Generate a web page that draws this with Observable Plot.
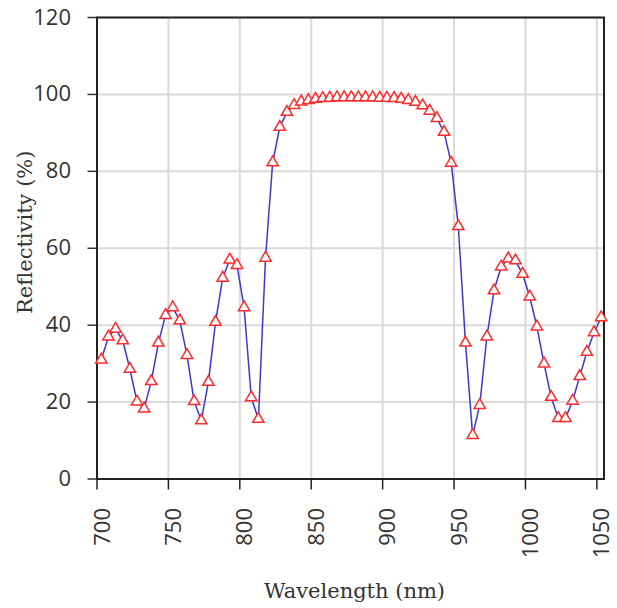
<!DOCTYPE html>
<html>
<head>
<meta charset="utf-8">
<script src="https://cdn.jsdelivr.net/npm/d3@7"></script>
<script src="https://cdn.jsdelivr.net/npm/@observablehq/plot@0.6"></script>
<style>
  html, body { margin: 0; padding: 0; background: #fff; }
  #chart svg { display: block; }
</style>
</head>
<body>
<div id="chart"></div>
<script>
// wavelengths (markers sit ~3 nm right of the round grid lines)
const wavelength = [
  703, 708, 713, 718, 723, 728, 733, 738, 743, 748,
  753, 758, 763, 768, 773, 778, 783, 788, 793, 798,
  803, 808, 813, 818, 823, 828, 833, 838, 843, 848,
  853, 858, 863, 868, 873, 878, 883, 888, 893, 898,
  903, 908, 913, 918, 923, 928, 933, 938, 943, 948,
  953, 958, 963, 968, 973, 978, 983, 988, 993, 998,
  1003, 1008, 1013, 1018, 1023, 1028, 1033, 1038, 1043, 1048,
  1053
];
const reflectivity = [
  31.0, 37.0, 39.0, 36.0, 28.6, 20.1, 18.3, 25.4, 35.4, 42.6,
  44.6, 41.2, 32.2, 20.2, 15.2, 25.2, 40.8, 52.3, 57.0, 55.6,
  44.6, 21.2, 15.6, 57.5, 82.3, 91.5, 95.4, 97.2, 98.1, 98.5,
  98.8, 99.0, 99.1, 99.2, 99.2, 99.2, 99.2, 99.2, 99.2, 99.1,
  99.1, 99.0, 98.8, 98.5, 98.0, 97.1, 95.7, 93.8, 90.2, 82.2,
  65.7, 35.4, 11.4, 19.2, 37.0, 49.0, 55.2, 57.3, 56.8, 53.3,
  47.4, 39.6, 30.0, 21.3, 15.8, 15.8, 20.3, 26.7, 33.0, 38.1,
  42.0
];
const xTicks = [700, 750, 800, 850, 900, 950, 1000, 1050];
const yTicks = [0, 20, 40, 60, 80, 100, 120];
const xTitle = "Wavelength (nm)";
const yTitle = "Reflectivity (%)";

const data = wavelength.map((w, i) => ({w, r: reflectivity[i]}));

const tickFont = "'Open Sans', 'Liberation Sans', sans-serif";
const titleFont = "'DejaVu Serif', 'Liberation Serif', serif";
const fmt = d3.format("d");

const chart = Plot.plot({
  width: 617,
  height: 608,
  marginTop: 17,
  marginLeft: 96.5,
  marginRight: 13.5,
  marginBottom: 129.5,
  x: {domain: [700, 1055]},
  y: {domain: [0, 120]},
  style: {background: "#fff"},
  marks: [
    Plot.ruleX(xTicks.slice(1), {x: d => d, stroke: "#dadada", strokeWidth: 2}),
    Plot.ruleY(yTicks.slice(1), {y: d => d, stroke: "#dadada", strokeWidth: 2}),
    Plot.frame({stroke: "#222", strokeWidth: 2}),
    Plot.line(data, {x: "w", y: "r", stroke: "#3a3ad0", strokeWidth: 1.5}),
    Plot.dot(data, {x: "w", y: "r", symbol: "triangle", r: 4.2, stroke: "#ff2b2b", fill: "white", strokeWidth: 1.5}),
    Plot.axisY({ticks: yTicks, tickSize: 9, tickPadding: 17, tickFormat: fmt, label: null, fontSize: 22, fontFamily: tickFont, color: "#333", strokeWidth: 1.5}),
    Plot.axisX({ticks: xTicks, tickSize: 11, tickFormat: () => "", label: null, color: "#222", strokeWidth: 1.5}),
    Plot.axisX({ticks: xTicks, tickSize: 0, tickPadding: 29, tickRotate: -90, dx: 5.5, tickFormat: fmt, label: null, fontSize: 22, fontFamily: tickFont, color: "#333"}),
    Plot.text([yTitle], {text: d => d, frameAnchor: "left", textAnchor: "middle", rotate: -90, dx: -72, dy: -16, fontSize: 21, fontFamily: titleFont, fill: "#333", lineAnchor: "middle"}),
    Plot.text([xTitle], {text: d => d, frameAnchor: "bottom", textAnchor: "middle", dx: 4, dy: 112.5, fontSize: 21, fontFamily: titleFont, fill: "#333", lineAnchor: "middle"})
  ]
});
document.getElementById("chart").appendChild(chart);
</script>
</body>
</html>
